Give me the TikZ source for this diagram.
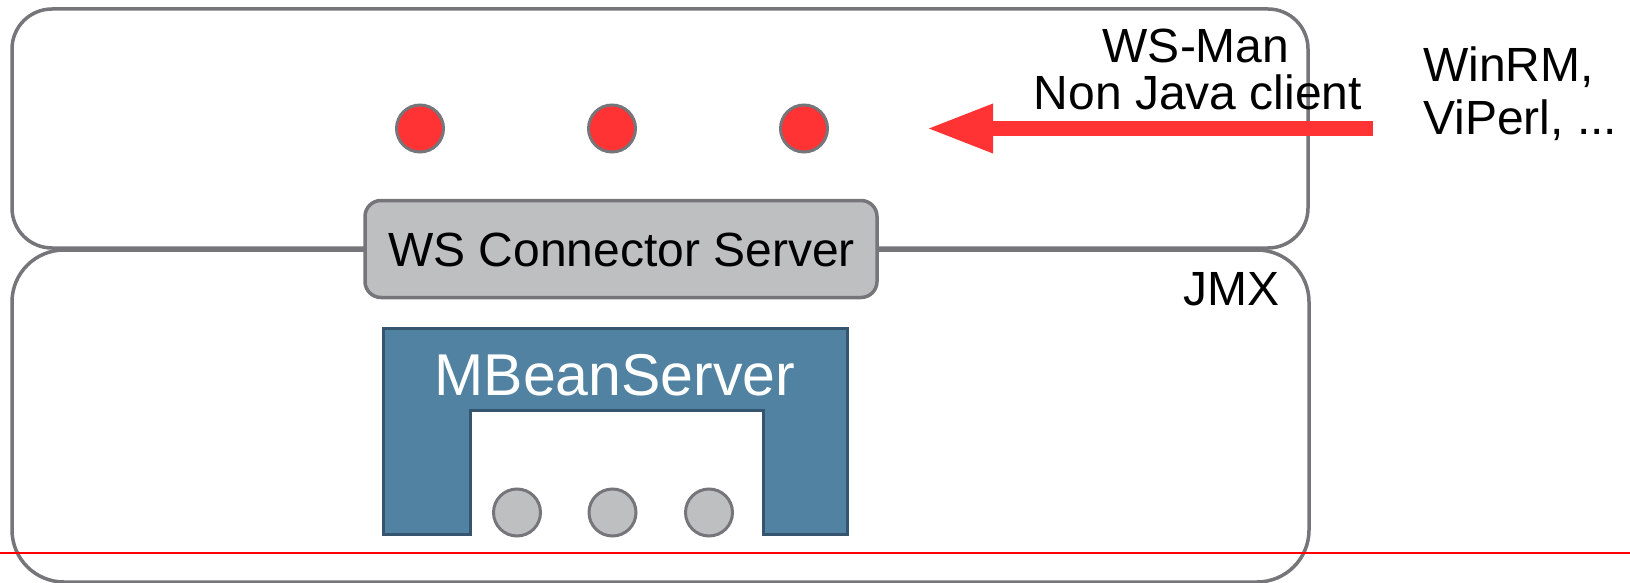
\documentclass[tikz,border=0pt]{standalone}
\usepackage{fontspec}
\setmainfont{Liberation Sans}
\usetikzlibrary{arrows.meta}
\definecolor{framegray}{RGB}{117,117,122}
\definecolor{boxfill}{RGB}{190,191,193}
\definecolor{signalred}{RGB}{255,51,51}
\definecolor{rulered}{RGB}{255,0,0}
\definecolor{mbeanfill}{RGB}{82,130,161}
\definecolor{mbeanedge}{RGB}{53,85,110}
\tikzset{
  layerbox/.style={draw=framegray, line width=3.5pt, inner sep=0pt},
  connbox/.style={draw=framegray, fill=boxfill, line width=3.5pt, inner sep=0pt,
    rounded corners=16pt, minimum width=512pt, minimum height=97pt},
  endpoint/.style={circle, draw=framegray, fill=signalred, line width=3pt,
    inner sep=0pt, minimum size=47pt},
  mbean/.style={circle, draw=framegray, fill=boxfill, line width=3pt,
    inner sep=0pt, minimum size=47pt},
  label/.style={inner sep=0pt, anchor=base, font=\fontsize{48}{48}\selectfont},
  bigarrow/.style={draw=signalred, line width=15pt,
    -{Triangle[length=67pt 0 0, width=45pt 0 0]}}
}
\begin{document}
\begin{tikzpicture}[x=1pt, y=-1pt]
\useasboundingbox (0,0) rectangle (1630,583);
\clip (0,0) rectangle (1630,583);

% JMX layer and WS-Man layer
\node[layerbox, rounded corners=52pt, minimum width=1297pt, minimum height=332pt]
  (jmx) at (660.5,416) {};
\node[layerbox, rounded corners=40pt, minimum width=1296pt, minimum height=239pt]
  (wsman) at (660,128.5) {};

% connector server sitting on the boundary
\node[connbox] (conn) at (621,249) {};
\node[label] (connlabel) at (621.5,266) {WS Connector Server};

% exposed endpoints
\node[endpoint] (e1) at (420,128.5) {};
\node[endpoint] (e2) at (612,128.5) {};
\node[endpoint] (e3) at (804,128.5) {};

% MBeanServer bracket
\fill[mbeanfill, draw=mbeanedge, line width=3pt]
  (383.5,328) -- (847,328) -- (847,534) -- (763.5,534) -- (763.5,410)
  -- (470,410) -- (470,534) -- (383.5,534) -- cycle;
\node[label, text=white, font=\fontsize{59}{59}\selectfont] (mbs) at (615,395) {MBeanServer};

% registered MBeans
\node[mbean] (m1) at (517,512.5) {};
\node[mbean] (m2) at (612.5,512.5) {};
\node[mbean] (m3) at (709,512.5) {};

% labels
\node[label] (wsman1) at (1196,63) {WS-Man};
\node[label] (wsman2) at (1198,110) {Non Java client};
\node[label, anchor=base west] (cl1) at (1423,82) {WinRM,};
\node[label, anchor=base west] (cl2) at (1423,135) {ViPerl, ...};
\node[label] (jmxlabel) at (1231,305) {JMX};

% incoming request from non-Java clients
\coordinate (src) at (1373,128.5);
\coordinate (dst) at (926,128.5);
\draw[bigarrow] (src) -- (dst);

% horizontal rule
\coordinate (ruleL) at (0,552.5);
\coordinate (ruleR) at (1630,552.5);
\draw[rulered, line width=2pt] (ruleL) -- (ruleR);
\end{tikzpicture}
\end{document}
